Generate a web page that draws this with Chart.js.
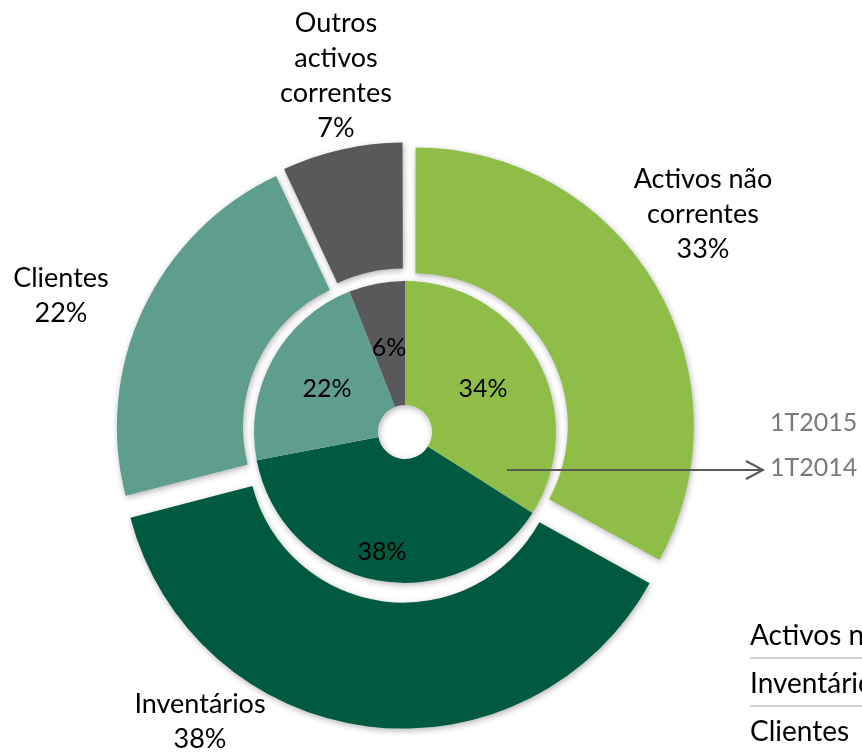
<!DOCTYPE html>
<html>
<head>
<meta charset="utf-8">
<script src="https://cdn.jsdelivr.net/npm/chart.js@4.4.1/dist/chart.umd.min.js"></script>
<style>
html,body{margin:0;padding:0;background:#fff;overflow:hidden;width:862px;height:753px;}
#wrap{position:relative;width:862px;height:753px;overflow:hidden;}
#c{position:absolute;left:0;top:0;}
#tbl{position:absolute;left:750px;top:611px;width:320px;font-family:Lato,"Open Sans",sans-serif;font-size:28px;color:#000;white-space:nowrap;}
#tbl .row{height:46px;line-height:46px;border-bottom:2px solid #d3d3d3;}
#tbl .row:last-child{border-bottom:none;}
</style>
</head>
<body>
<div id="wrap">
<canvas id="c" width="862" height="753"></canvas>
<div id="tbl"></div>
</div>
<script>
// ---- data ----
const categories = ['Activos não correntes', 'Inventários', 'Clientes', 'Outros activos correntes'];
const seriesNames = ['1T2015', '1T2014'];
const values1T2015 = [33, 38, 22, 7];
const values1T2014 = [34, 38, 22, 6];
const tableRows = ['Activos não correntes', 'Inventários', 'Clientes'];

// ---- styles ----
const sliceColors = ['#8FBE48', '#005A3F', '#5F9E8E', '#58595B'];
const FONT_OUTER = '27px Lato, "Open Sans", sans-serif';
const FONT_INNER = '25px Lato, "Open Sans", sans-serif';
const FONT_SERIES = '25px Lato, "Open Sans", sans-serif';

// table (partially outside the window, as in the reference)
const tbl = document.getElementById('tbl');
tableRows.forEach(t => {
  const d = document.createElement('div');
  d.className = 'row';
  d.textContent = t;
  tbl.appendChild(d);
});

const shadowPlugin = {
  id: 'shadows',
  beforeDatasetDraw(chart, args) {
    const ctx = chart.ctx;
    ctx.save();
    if (args.index === 1) {
      const a = chart.getDatasetMeta(1).data[0];
      ctx.save();
      ctx.shadowColor = 'rgba(0,0,0,0.3)';
      ctx.shadowBlur = 6;
      ctx.shadowOffsetX = 1;
      ctx.shadowOffsetY = 2;
      ctx.beginPath();
      ctx.arc(a.x, a.y, a.outerRadius, 0, Math.PI * 2);
      ctx.arc(a.x, a.y, a.innerRadius, 0, Math.PI * 2, true);
      ctx.fillStyle = '#ffffff';
      ctx.fill();
      ctx.restore();
    } else {
      ctx.shadowColor = 'rgba(0,0,0,0.3)';
      ctx.shadowBlur = 6;
      ctx.shadowOffsetX = 1;
      ctx.shadowOffsetY = 2;
    }
  },
  afterDatasetDraw(chart) {
    chart.ctx.restore();
  }
};

function wrapText(ctx, text, maxW) {
  const words = text.split(' ');
  const lines = [];
  let cur = '';
  words.forEach(w => {
    const t = cur ? cur + ' ' + w : w;
    if (cur && ctx.measureText(t).width > maxW) { lines.push(cur); cur = w; }
    else cur = t;
  });
  if (cur) lines.push(cur);
  return lines;
}

const labelPlugin = {
  id: 'sliceLabels',
  afterDraw(chart, args, opts) {
    const ctx = chart.ctx;
    const outer = chart.getDatasetMeta(0);
    const inner = chart.getDatasetMeta(1);
    const cx = inner.data[0].x, cy = inner.data[0].y;
    ctx.save();
    ctx.textAlign = 'center';
    ctx.textBaseline = 'middle';
    ctx.fillStyle = '#000';
    // inner ring values
    ctx.font = FONT_INNER;
    inner.data.forEach((arc, i) => {
      const mid = (arc.startAngle + arc.endAngle) / 2;
      const r = arc.innerRadius + (arc.outerRadius - arc.innerRadius) * opts.innerFactor[i];
      ctx.fillText(values1T2014[i] + '%', cx + Math.cos(mid) * r, cy + Math.sin(mid) * r);
    });
    // outer ring category + value
    ctx.font = FONT_OUTER;
    outer.data.forEach((arc, i) => {
      const lines = wrapText(ctx, categories[i], opts.wrapWidth[i]);
      lines.push(values1T2015[i] + '%');
      const [dx, dy] = opts.outerPos[i];
      const lh = opts.lineHeight;
      const y0 = cy + dy - (lines.length - 1) * lh / 2;
      lines.forEach((ln, k) => ctx.fillText(ln, cx + dx, y0 + k * lh));
    });
    // series labels and arrow
    ctx.font = FONT_SERIES;
    ctx.fillStyle = '#7a7a7a';
    ctx.textAlign = 'left';
    ctx.fillText(seriesNames[0], cx + opts.seriesX, cy + opts.seriesY[0]);
    ctx.fillText(seriesNames[1], cx + opts.seriesX, cy + opts.seriesY[1]);
    const ax0 = cx + opts.arrowStart[0], ay = cy + opts.arrowStart[1];
    const ax1 = cx + opts.seriesX - 7;
    ctx.strokeStyle = '#595959';
    ctx.lineWidth = 2;
    ctx.beginPath();
    ctx.moveTo(ax0, ay);
    ctx.lineTo(ax1, ay);
    ctx.stroke();
    ctx.beginPath();
    ctx.moveTo(ax1 - 17, ay - 9);
    ctx.lineTo(ax1, ay);
    ctx.lineTo(ax1 - 17, ay + 9);
    ctx.stroke();
    ctx.restore();
  }
};

new Chart(document.getElementById('c'), {
  type: 'doughnut',
  data: {
    labels: categories,
    datasets: [
      {
        label: seriesNames[0],
        data: values1T2015,
        backgroundColor: sliceColors,
        borderWidth: 0,
        offset: [48, 60, 48, 32],
        hoverOffset: 0,
        weight: 126
      },
      {
        label: seriesNames[1],
        data: values1T2014,
        backgroundColor: sliceColors,
        borderWidth: 0,
        hoverOffset: 0,
        weight: 124
      }
    ]
  },
  options: {
    responsive: false,
    animation: false,
    events: [],
    radius: 277,
    cutout: '9.75%',
    layout: { padding: { left: 0, right: 52, top: 111, bottom: 0 } },
    plugins: {
      legend: { display: false },
      tooltip: { enabled: false },
      sliceLabels: {
        innerFactor: [0.5, 0.77, 0.5, 0.47],
        wrapWidth: [150, 150, 150, 120],
        outerPos: [[298, -218], [-205, 290], [-344, -136], [-69, -356]],
        lineHeight: 35,
        seriesX: 365,
        seriesY: [-9, 36],
        arrowStart: [102, 38]
      }
    }
  },
  plugins: [shadowPlugin, labelPlugin]
});
</script>
</body>
</html>
